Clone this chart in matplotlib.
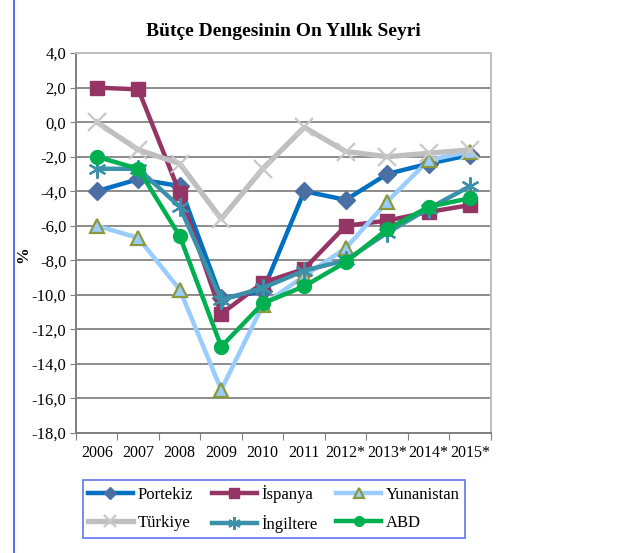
import numpy as np
import matplotlib
matplotlib.use('Agg')
import matplotlib.pyplot as plt
from matplotlib.lines import Line2D

plt.rcParams['font.family'] = ['Liberation Serif', 'DejaVu Serif']

# Data
years = ['2006', '2007', '2008', '2009', '2010', '2011', '2012*', '2013*', '2014*', '2015*']
portekiz = [-4.0, -3.3, -3.7, -10.2, -9.8, -4.0, -4.5, -3.0, -2.4, -1.9]
ispanya = [2.0, 1.9, -4.1, -11.1, -9.3, -8.5, -6.0, -5.7, -5.2, -4.8]
yunanistan = [-6.0, -6.7, -9.7, -15.5, -10.6, -8.9, -7.3, -4.6, -2.2, -1.7]
turkiye = [0.0, -1.6, -2.4, -5.6, -2.7, -0.3, -1.7, -2.0, -1.8, -1.6]
ingiltere = [-2.7, -2.7, -4.9, -10.3, -9.6, -8.6, -8.0, -6.4, -5.0, -3.7]
abd = [-2.0, -2.7, -6.6, -13.0, -10.5, -9.5, -8.1, -6.2, -4.9, -4.4]

x = np.arange(len(years)) + 0.5

fig = plt.figure(figsize=(6.37, 5.53), dpi=100)
ax = fig.add_axes([0.1193, 0.217, 0.6515, 0.687])

ax.set_ylim(-18, 4)
ax.set_xlim(0, len(years))
ax.set_yticks(np.arange(-18, 5, 2))
ax.set_yticklabels([f'{v:.1f}'.replace('.', ',') for v in np.arange(-18, 5, 2)], fontsize=12)
ax.yaxis.grid(True, color='#8c8c8c', linewidth=1.4)
ax.set_axisbelow(True)

# category boundaries as ticks, labels centred between them
ax.set_xticks(np.arange(0, len(years) + 1))
ax.set_xticklabels([])
ax.set_xticks(x, minor=True)
ax.set_xticklabels(years, minor=True, fontsize=11.5)
ax.tick_params(axis='x', which='minor', length=0, pad=9)
ax.tick_params(axis='x', which='major', length=5, color='#808080')
ax.tick_params(axis='y', length=4, color='#808080', pad=3)

for s in ['left', 'bottom']:
    ax.spines[s].set_color('#808080')
    ax.spines[s].set_linewidth(1.4)
ax.spines['top'].set_color('#bfbfbf')
ax.spines['right'].set_color('#bfbfbf')
ax.spines['top'].set_linewidth(1.4)
ax.spines['right'].set_linewidth(1.4)

lw = 3.2
h1, = ax.plot(x, portekiz, color='#0070c0', lw=lw, marker='D', ms=9,
              mfc='#4a6fa5', mec='#4a6fa5', label='Portekiz')
h2, = ax.plot(x, ispanya, color='#953565', lw=lw, marker='s', ms=10,
              mfc='#953565', mec='#953565', label='İspanya')
h3, = ax.plot(x, yunanistan, color='#99ccff', lw=lw, marker='^', ms=10,
              mfc='#99ccff', mec='#8a9a3a', mew=1.6, label='Yunanistan')
h4, = ax.plot(x, turkiye, color='#bfbfbf', lw=lw + 0.6, marker='x', ms=13,
              mew=1.6, mec='#c8c8c8', label='Türkiye')
h5, = ax.plot(x, ingiltere, color='#3b91aa', lw=lw, marker=(6, 2, 0), ms=13,
              mew=1.6, mec='#3b91aa', label='İngiltere')
h6, = ax.plot(x, abd, color='#00b050', lw=lw, marker='o', ms=10,
              mfc='#00b050', mec='#00b050', label='ABD')

ax.set_title('Bütçe Dengesinin On Yıllık Seyri', fontsize=14, fontweight='bold', pad=12)
ax.set_ylabel('%', fontsize=12, fontweight='bold')
ax.yaxis.set_label_coords(-0.108, 0.47)

leg = fig.legend([h1, h4, h2, h5, h3, h6],
                 ['Portekiz', 'Türkiye', 'İspanya', 'İngiltere', 'Yunanistan', 'ABD'],
                 ncol=3, loc='center', bbox_to_anchor=(0.430, 0.0796),
                 fontsize=12, frameon=True, fancybox=False, handlelength=2.7,
                 markerscale=0.7, columnspacing=1.1, handletextpad=0.3,
                 borderpad=0.3, labelspacing=0.75, borderaxespad=0)
leg.get_frame().set_edgecolor('#3355ee')
leg.get_frame().set_linewidth(1.2)

# page border line on the left
fig.add_artist(Line2D([14 / 637, 14 / 637], [0, 1], transform=fig.transFigure,
                      color='#3355ee', lw=1.2))

plt.savefig('out.png', dpi=100)
